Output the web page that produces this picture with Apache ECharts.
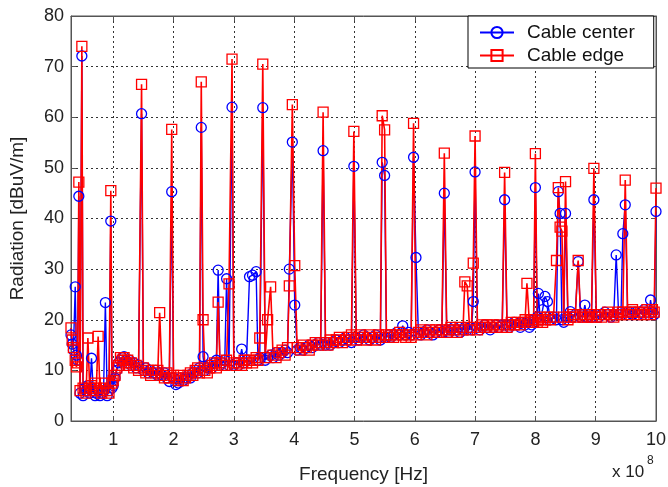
<!DOCTYPE html>
<html><head><meta charset="utf-8">
<script src="https://cdn.jsdelivr.net/npm/echarts@6/dist/echarts.min.js"></script>
<style>html,body{margin:0;padding:0;background:#fff}#c{width:668px;height:487px}</style>
</head><body><div id="c"></div>
<script>
// Frequency in units of 1e8 Hz
const freq = [
 0.30,0.32,0.34,0.37,0.39,0.41,0.43,0.45,0.48,0.50,0.53,0.55,0.58,0.61,0.64,0.67,0.70,0.72,0.75,0.78,0.81,0.84,0.87,0.90,0.93,0.96,0.98,1.00,
 1.03,1.06,1.09,1.12,1.15,1.18,1.21,1.24,1.27,1.30,1.34,1.38,1.42,1.47,1.50,1.54,1.58,1.62,1.66,1.70,1.74,1.77,1.81,1.85,1.89,1.93,1.97,2.00,2.04,2.08,2.12,2.16,2.20,2.24,2.28,2.32,2.36,2.40,2.43,2.46,2.49,2.52,2.56,2.60,2.64,2.68,2.71,2.74,2.77,2.81,2.85,2.88,2.92,2.97,3.00,
 3.04,3.08,3.13,3.17,3.21,3.26,3.31,3.37,3.40,3.43,3.48,3.52,3.56,3.61,3.65,3.70,3.75,3.80,3.85,3.89,3.92,3.97,4.01,
 4.05,4.10,4.15,4.20,4.25,4.30,4.35,4.40,4.44,4.48,4.52,4.56,4.60,4.65,4.70,4.75,4.80,4.85,4.90,4.95,4.99,
 5.03,5.07,5.10,5.15,5.20,5.25,5.30,5.35,5.40,5.43,5.46,5.50,5.53,5.57,5.60,5.65,5.70,5.75,5.80,5.85,5.90,5.94,5.98,
 6.02,6.06,6.10,6.15,6.20,6.25,6.30,6.35,6.40,6.45,6.49,6.53,6.57,6.60,6.65,6.70,6.75,6.80,6.83,6.87,6.91,6.94,6.97,7.00,
 7.04,7.08,7.12,7.16,7.20,7.25,7.30,7.35,7.40,7.45,7.49,7.53,7.57,7.60,7.65,7.70,7.75,7.80,7.83,7.86,7.90,7.94,7.97,8.00,
 8.03,8.05,8.08,8.12,8.16,8.20,8.25,8.30,8.35,8.38,8.41,8.44,8.47,8.50,8.54,8.58,8.62,8.66,8.71,8.75,8.79,8.82,8.86,8.90,8.93,8.97,
 9.01,9.05,9.10,9.15,9.20,9.25,9.30,9.34,9.38,9.42,9.45,9.49,9.53,9.57,9.61,9.65,9.70,9.75,9.80,9.85,9.88,9.91,9.94,9.97,10.00
];
const center = [
 17.0,15.2,14.0,26.5,13.0,12.0,44.4,5.5,72.1,5.0,6.5,6.0,7.0,5.5,12.4,6.0,5.0,5.5,6.0,5.0,5.5,6.0,23.4,5.0,6.0,39.5,6.5,7.0,
 8.5,10.0,11.5,12.0,12.5,12.7,12.0,11.5,12.0,11.0,11.5,10.5,11.0,60.7,10.0,10.5,9.5,10.0,9.5,10.0,9.0,9.5,9.0,9.5,8.5,7.8,45.3,8.5,7.2,7.5,8.5,8.0,8.5,9.0,8.5,9.5,10.0,9.5,10.5,58.0,12.7,10.0,10.5,11.0,10.5,11.5,12.0,29.8,11.0,11.5,12.0,28.1,11.0,62.0,11.0,
 11.5,11.0,14.2,11.5,12.0,28.5,28.8,29.5,12.0,12.5,61.9,12.0,12.5,13.0,12.5,13.5,13.0,13.5,14.0,13.5,30.0,55.1,22.9,
 14.0,14.5,14.0,14.5,15.0,14.5,15.0,15.5,15.0,53.4,15.0,15.5,15.0,15.5,16.0,15.5,16.0,16.5,16.0,15.5,50.3,
 16.5,16.0,16.5,17.0,16.5,16.0,16.5,17.0,16.5,16.0,51.1,48.5,16.5,17.0,16.5,17.0,17.5,17.0,18.8,17.0,17.5,17.0,52.1,
 32.3,17.5,17.0,17.5,18.0,17.5,17.0,17.5,18.0,17.5,45.0,18.0,17.5,18.0,18.5,18.0,17.5,18.0,18.5,18.0,18.5,18.0,23.6,49.2,
 18.5,18.0,18.5,19.0,18.5,18.0,18.5,19.0,18.5,19.0,43.7,19.0,18.5,19.0,19.5,19.0,18.5,19.5,19.0,19.5,18.5,19.0,20.0,46.1,
 20.5,25.2,20.0,22.0,24.6,23.6,20.0,20.5,20.0,45.3,41.0,20.0,19.5,41.0,20.5,21.6,20.5,21.0,31.5,20.5,21.0,22.9,20.5,21.0,20.5,43.7,
 21.0,20.5,21.0,21.5,21.0,20.5,21.0,32.8,21.0,21.5,37.0,42.7,21.0,21.5,21.0,21.5,21.0,21.5,22.0,21.5,21.0,23.9,21.5,21.0,41.4
];
const edge = [
 18.4,16.0,14.5,12.0,10.7,11.5,47.2,6.0,74.0,6.5,6.0,5.5,16.4,6.5,7.0,6.0,7.5,6.5,16.7,6.0,5.5,6.5,7.5,6.0,5.5,45.5,7.5,8.0,
 9.0,10.5,11.0,12.5,12.0,12.5,11.5,12.0,11.0,11.5,10.5,11.0,10.0,66.5,10.5,9.5,10.0,9.0,10.0,9.5,10.0,21.4,9.0,8.5,9.5,8.5,57.6,9.0,8.5,8.0,9.0,8.0,8.5,9.0,9.5,9.0,10.0,10.5,9.5,67.0,20.0,10.0,9.5,10.5,11.0,11.5,10.5,23.5,11.5,11.0,11.0,12.0,27.1,71.5,11.5,
 11.0,11.5,11.0,12.0,11.5,12.0,11.5,12.5,12.0,16.4,70.5,12.5,20.0,26.5,13.0,12.5,13.5,14.0,13.0,14.5,26.7,62.5,30.7,
 14.5,14.0,15.0,14.5,14.0,15.0,15.5,15.0,15.5,61.0,15.5,15.0,16.0,15.5,16.0,16.5,15.5,16.0,16.5,17.0,57.2,
 16.0,16.5,17.0,16.5,16.0,17.0,16.5,16.0,17.0,16.5,60.3,57.5,17.0,16.5,17.0,16.5,17.0,17.5,17.0,16.5,17.0,16.5,58.8,
 17.0,17.5,18.0,17.5,17.0,18.0,17.5,18.0,17.5,18.0,52.9,17.5,18.0,18.5,18.0,17.5,18.5,18.0,27.5,26.7,18.0,18.5,31.2,56.3,
 18.0,18.5,19.0,18.5,19.0,18.5,19.0,18.5,19.0,18.5,49.1,18.5,19.0,19.5,19.0,19.5,19.0,19.5,20.0,27.2,19.5,20.0,19.5,52.8,
 19.5,20.0,20.5,19.5,20.0,20.5,20.0,20.5,31.7,46.1,38.3,37.5,20.5,47.3,20.0,20.5,21.0,20.5,31.7,21.0,20.5,21.0,20.5,21.0,20.5,49.9,
 20.5,21.0,20.5,21.0,21.5,21.0,20.5,21.0,21.5,21.0,21.5,47.6,21.0,21.5,22.0,21.5,21.0,21.5,21.0,22.0,21.5,21.0,22.0,21.5,46.0
];
const xTicks = [1,2,3,4,5,6,7,8,9,10];
const seriesNames = ['Cable center','Cable edge'];

const font = 'Liberation Sans, Arial, sans-serif';
const axisColor = '#555';
const gridLine = {show:true, lineStyle:{color:'#333', width:1, type:[2,3]}};

const chart = echarts.init(document.getElementById('c'), null, {renderer:'canvas'});
chart.setOption({
  animation:false,
  backgroundColor:'#fff',
  grid:{left:71, top:16, width:585, height:405, outerBoundsMode:'none', containLabel:false,
        show:true, borderColor:axisColor, borderWidth:1, backgroundColor:'transparent'},
  legend:{
    data:seriesNames, orient:'vertical', left:468, top:16,
    padding:[7,19,3,11], itemGap:4, itemWidth:34, itemHeight:14,
    backgroundColor:'#fff', borderColor:'#000', borderWidth:1, borderRadius:0,
    textStyle:{fontSize:19, color:'#111', fontFamily:font, padding:[0,0,0,8]}
  },
  xAxis:[{
    type:'value', min:0.3, max:10,
    axisLine:{show:true, onZero:false, lineStyle:{color:axisColor}},
    axisTick:{show:true, inside:true, length:5, customValues:xTicks, lineStyle:{color:axisColor}},
    axisLabel:{customValues:xTicks, fontSize:18, color:'#222', margin:10, fontFamily:font},
    splitLine:gridLine,
    name:'Frequency [Hz]', nameLocation:'middle', nameGap:44,
    nameTextStyle:{fontSize:19, color:'#222', fontFamily:font}
  },{
    type:'value', min:0.3, max:10, position:'top',
    axisLine:{show:true, onZero:false, lineStyle:{color:axisColor}},
    axisTick:{show:true, inside:true, length:5, customValues:xTicks, lineStyle:{color:axisColor}},
    axisLabel:{show:false}, splitLine:{show:false}
  }],
  yAxis:[{
    type:'value', min:0, max:80, interval:10,
    axisLine:{show:true, lineStyle:{color:axisColor}},
    axisTick:{show:true, inside:true, length:5, lineStyle:{color:axisColor}},
    axisLabel:{fontSize:18, color:'#222', margin:7, fontFamily:font},
    splitLine:gridLine,
    name:'Radiation [dBuV/m]', nameLocation:'middle', nameGap:44,
    nameTextStyle:{fontSize:19, color:'#222', fontFamily:font}
  },{
    type:'value', min:0, max:80, interval:10, position:'right',
    axisLine:{show:true, lineStyle:{color:axisColor}},
    axisTick:{show:true, inside:true, length:5, lineStyle:{color:axisColor}},
    axisLabel:{show:false}, splitLine:{show:false}
  }],
  series:[{
    name:seriesNames[0], type:'line', xAxisIndex:0, yAxisIndex:0,
    data:freq.map((f,i)=>[f, center[i]]),
    symbol:'circle', symbolSize:10, showAllSymbol:true,
    itemStyle:{color:'rgba(0,0,0,0)', borderColor:'#0000ff', borderWidth:1.3},
    lineStyle:{color:'#0000ff', width:1.4},
    emphasis:{disabled:true}
  },{
    name:seriesNames[1], type:'line', xAxisIndex:0, yAxisIndex:0,
    data:freq.map((f,i)=>[f, edge[i]]),
    symbol:'rect', symbolSize:10, showAllSymbol:true,
    itemStyle:{color:'rgba(0,0,0,0)', borderColor:'#ff0000', borderWidth:1.3},
    lineStyle:{color:'#ff0000', width:1.6},
    emphasis:{disabled:true}
  }],
  graphic:[
    {type:'text', left:612, top:464, style:{text:'x 10', fontSize:17, fill:'#222', fontFamily:font}},
    {type:'text', left:647, top:455, style:{text:'8', fontSize:12, fill:'#222', fontFamily:font}}
  ]
});
</script>
</body></html>
